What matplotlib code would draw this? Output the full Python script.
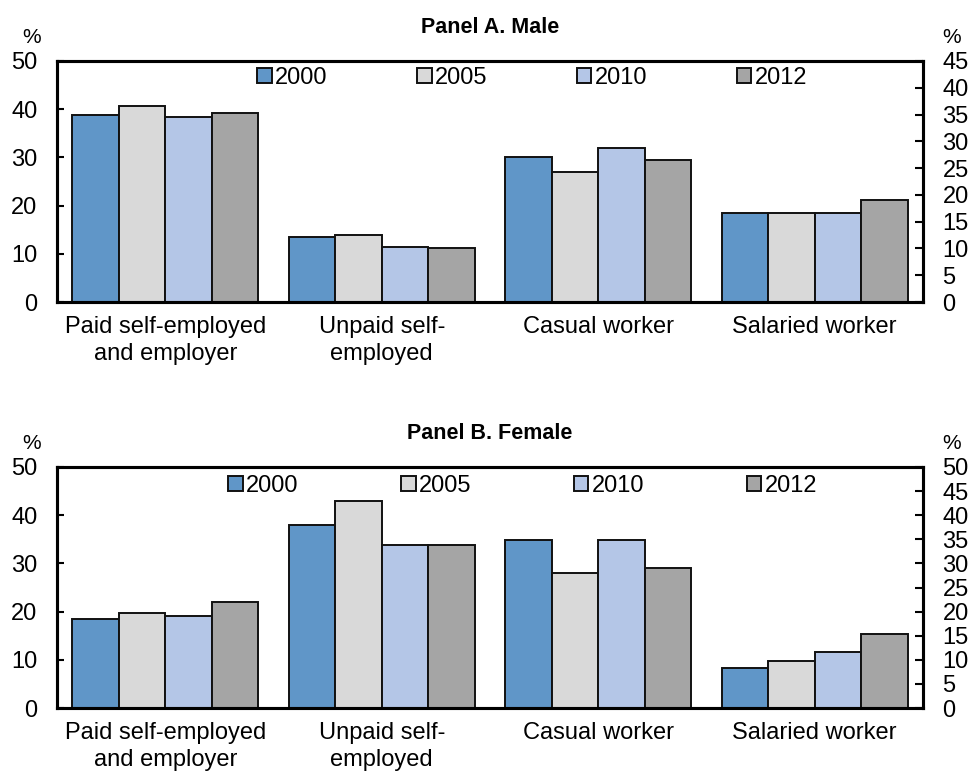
import matplotlib
matplotlib.use('Agg')
import matplotlib.pyplot as plt
import numpy as np

plt.rcParams['font.family'] = ['Liberation Sans', 'DejaVu Sans']

categories = ['Paid self-employed\nand employer', 'Unpaid self-\nemployed',
              'Casual worker', 'Salaried worker']
years = ['2000', '2005', '2010', '2012']
colors = ['#6096C8', '#D9D9D9', '#B4C6E7', '#A5A5A5']

# share of workers by employment type, in %
male = {
    '2000': [38.8, 13.5, 30.0, 18.4],
    '2005': [40.6, 14.0, 26.9, 18.4],
    '2010': [38.3, 11.4, 31.9, 18.4],
    '2012': [39.2, 11.1, 29.4, 21.1],
}
female = {
    '2000': [18.4, 37.9, 34.8, 8.2],
    '2005': [19.7, 43.0, 28.1, 9.8],
    '2010': [19.0, 33.9, 34.8, 11.7],
    '2012': [22.0, 33.9, 29.1, 15.3],
}

panels = [
    ('Panel A. Male', male, [0.0589, 0.6083, 0.8946, 0.3126], 45,
     (0.549, 0.929), 3.8, 0.9637, 0.951),
    ('Panel B. Female', female, [0.0589, 0.0817, 0.8946, 0.3126], 50,
     (0.538, 0.921), 4.35, 0.438, 0.425),
]

fig = plt.figure(figsize=(9.68, 7.71), dpi=100)
x = np.arange(len(categories))
width = 0.215

for title, data, rect, right_max, leg_pos, colsp, title_y, pct_y in panels:
    ax = fig.add_axes(rect)
    handles = []
    for i, year in enumerate(years):
        b = ax.bar(x + (i - 1.5) * width, data[year], width, color=colors[i],
                   edgecolor='#111111', linewidth=1.4, label=year)
        handles.append(b)
    ax.set_xlim(-0.5, len(categories) - 0.5)
    ax.set_ylim(0, 50)
    ax.set_yticks(range(0, 51, 10))
    ax.set_xticks(x)
    ax.set_xticklabels(categories, fontsize=17, linespacing=1.3)
    ax.tick_params(axis='x', length=0, pad=10)
    ax.tick_params(axis='y', direction='in', length=5, width=1.5,
                   labelsize=17, pad=14)
    for s in ax.spines.values():
        s.set_linewidth(2.2)
        s.set_color('black')

    ax2 = ax.twinx()
    ax2.set_ylim(0, right_max)
    ax2.set_yticks(range(0, right_max + 1, 5))
    ax2.tick_params(axis='y', direction='in', length=6, width=1.5,
                    labelsize=17, pad=14)
    for s in ax2.spines.values():
        s.set_linewidth(2.2)

    ax.legend(handles=handles, loc='center', bbox_to_anchor=leg_pos,
              ncol=4, frameon=False, fontsize=17, handlelength=0.6,
              handleheight=0.6, handletextpad=0.15,
              columnspacing=colsp, borderaxespad=0)

    fig.text(0.506, title_y, title, ha='center', va='center',
             fontsize=15.5, fontweight='bold')
    fig.text(0.033, pct_y, '%', ha='center', va='center', fontsize=15)
    fig.text(0.983, pct_y, '%', ha='center', va='center', fontsize=15)

fig.savefig('out.png', dpi=100)
